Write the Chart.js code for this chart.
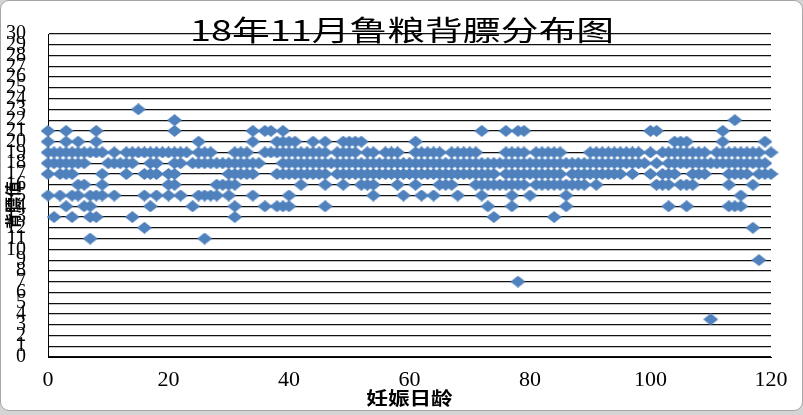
<!DOCTYPE html>
<html>
<head>
<meta charset="utf-8">
<script src="https://cdn.jsdelivr.net/npm/chart.js@4/dist/chart.umd.min.js"></script>
<style>
  body { margin: 0; background: #d4d4d4; }
  #frame {
    position: absolute; left: 0; top: 0;
    width: 801px; height: 409px;
    border: 1px solid #a6a6a6; border-radius: 9px;
    background: #fff;
  }
  #backfatChart { position: absolute; left: 0; top: 0; }
</style>
</head>
<body>
<div id="frame"></div>
<canvas id="backfatChart" width="803" height="415"></canvas>
<script>
// backfat value levels and the gestation days recorded at each level
const levels = [23, 22, 21, 20, 19, 18, 17, 16, 15, 14, 13, 12, 11, 9, 7, 3.5];

const daysAt23 = [15];
const daysAt22 = [21, 114];
const daysAt21 = [0, 3, 8, 21, 34, 36, 37, 39, 72, 76, 78, 79, 100, 101, 112];
const daysAt20 = [0, 3, 5, 8, 25, 34, 38, 39, 40, 41, 44, 46, 49, 50, 51, 52, 61, 104, 105, 106, 112, 119];
const daysAt19 = [0, 1, 2, 3, 4, 5, 6, 7, 8, 9, 11, 13, 14, 15, 16, 17, 18, 19, 20, 21, 22, 23, 25, 26, 27,
  31, 32, 33, 36, 37, 38, 39, 40, 41, 42, 43, 44, 45, 46, 48, 49, 50, 51, 53, 54, 56, 57, 58,
  61, 62, 63, 64, 65, 67, 68, 69, 70, 71, 76, 77, 78, 79, 81, 82, 83, 84, 85,
  90, 91, 92, 93, 94, 95, 96, 97, 98, 100, 102, 103, 104, 105, 106, 107, 108, 109,
  111, 112, 113, 114, 115, 116, 117, 118, 120];
const daysAt18 = [0, 1, 2, 3, 4, 5, 6, 10, 11, 12, 13, 14, 17, 18, 21, 22, 24, 25, 26, 27, 28, 29, 30,
  31, 32, 33, 34, 35, 39, 40, 41, 42, 43, 44, 45, 46, 47, 48, 49, 50, 51, 52, 53, 54, 55, 56, 57, 58,
  59, 60, 61, 62, 63, 64, 65, 66, 67, 68, 69, 70, 71, 72, 73, 74, 75, 76, 77, 78, 79, 80,
  81, 82, 83, 84, 85, 86, 87, 88, 89, 90, 91, 92, 93, 94, 95, 96, 97, 98, 99, 101,
  103, 104, 105, 106, 107, 108, 109, 110, 111, 112, 113, 114, 115, 116, 117, 118, 119];
const daysAt17 = [0, 2, 3, 4, 9, 13, 16, 17, 18, 20, 21, 30, 31, 32, 33, 34, 38, 39, 40, 41, 42, 43, 44,
  45, 46, 48, 49, 50, 51, 52, 53, 54, 55, 56, 57, 58, 59, 60, 61, 62, 63, 64, 65, 66, 67, 68,
  69, 70, 71, 72, 73, 74, 76, 77, 78, 79, 80, 81, 82, 83, 84, 85, 87, 88, 89, 90, 91,
  92, 93, 94, 95, 97, 100, 102, 103, 104, 107, 108, 109, 113, 114, 115, 116, 118, 119, 120];
const daysAt16 = [5, 6, 9, 20, 21, 28, 29, 30, 31, 42, 46, 49, 52, 53, 54, 58, 61, 65, 66, 67,
  71, 72, 73, 74, 75, 76, 77, 78, 79, 81, 82, 83, 84, 85, 86, 87, 88, 89, 91,
  101, 102, 103, 105, 106, 107, 113, 117];
const daysAt15 = [0, 2, 4, 5, 7, 8, 9, 11, 16, 18, 20, 22, 25, 26, 27, 28, 30, 34, 40, 54,
  59, 62, 64, 68, 72, 77, 80, 86, 115];
const daysAt14 = [3, 6, 7, 17, 24, 31, 36, 38, 39, 40, 46, 73, 77, 86, 103, 106, 113, 114, 115];
const daysAt13 = [1, 4, 7, 8, 14, 31, 74, 84];
const daysAt12 = [16, 117];
const daysAt11 = [7, 26];
const daysAt9 = [118];
const daysAt7 = [78];
const daysAt3_5 = [110];

const dayGroups = [daysAt23, daysAt22, daysAt21, daysAt20, daysAt19, daysAt18, daysAt17, daysAt16,
  daysAt15, daysAt14, daysAt13, daysAt12, daysAt11, daysAt9, daysAt7, daysAt3_5];

const points = [];
levels.forEach(function (v, i) {
  dayGroups[i].forEach(function (d) { points.push({ x: d, y: v }); });
});

// Excel style diamond marker, a bit wider than tall
const marker = document.createElement("canvas");
marker.width = 15;
marker.height = 12;
(function () {
  const m = marker.getContext("2d");
  m.fillStyle = "#4f81bd";
  m.beginPath();
  m.moveTo(7.5, 0);
  m.lineTo(15, 6);
  m.lineTo(7.5, 12);
  m.lineTo(0, 6);
  m.closePath();
  m.fill();
})();

// titles overlap the plot in the reference, so they are drawn by hand
const titlePlugin = {
  id: "titles",
  afterDraw: function (chart) {
    const ctx = chart.ctx;
    const area = chart.chartArea;
    ctx.save();
    ctx.fillStyle = "#000";
    ctx.textAlign = "center";
    ctx.textBaseline = "middle";

    ctx.save();
    ctx.translate(402, 30);
    ctx.scale(1.35, 1);
    ctx.font = "28px 'Noto Sans CJK SC'";
    ctx.fillText("18年11月鲁粮背膘分布图", 0, 0);
    ctx.restore();

    ctx.save();
    ctx.translate((area.left + area.right) / 2, 398);
    ctx.scale(1.2, 1);
    ctx.font = "bold 18px 'Noto Sans CJK SC'";
    ctx.fillText("妊娠日龄", 0, 0);
    ctx.restore();

    ctx.save();
    ctx.translate(13, 205);
    ctx.rotate(-Math.PI / 2);
    ctx.font = "bold 16px 'Noto Sans CJK SC'";
    ctx.fillText("背膘值", 0, 0);
    ctx.restore();

    ctx.restore();
  }
};

new Chart(document.getElementById("backfatChart"), {
  type: "scatter",
  data: {
    datasets: [{
      label: "背膘值",
      data: points,
      pointStyle: marker,
      pointRadius: 7,
      backgroundColor: "#4f81bd",
      borderColor: "#4f81bd",
      clip: false
    }]
  },
  options: {
    responsive: false,
    animation: false,
    layout: { padding: { top: 27, right: 32, left: 0, bottom: 0 } },
    plugins: {
      legend: { display: false },
      title: { display: false },
      tooltip: { enabled: false }
    },
    scales: {
      x: {
        min: 0,
        max: 120,
        afterFit: function (s) { s.height = 58; },
        grid: { display: false, drawTicks: false },
        border: { display: true, color: "#000", width: 1 },
        ticks: {
          stepSize: 20,
          padding: 10,
          color: "#000",
          font: { family: "'Liberation Serif'", size: 22 }
        }
      },
      y: {
        min: 0,
        max: 30,
        afterFit: function (s) { s.width = 48; },
        grid: { color: "#111", lineWidth: 1.2, drawTicks: false },
        border: { display: true, color: "#000", width: 1 },
        ticks: {
          stepSize: 1,
          autoSkip: false,
          padding: 22,
          color: "#000",
          font: { family: "'Liberation Serif'", size: 20 }
        }
      }
    }
  },
  plugins: [titlePlugin]
});
</script>
</body>
</html>
